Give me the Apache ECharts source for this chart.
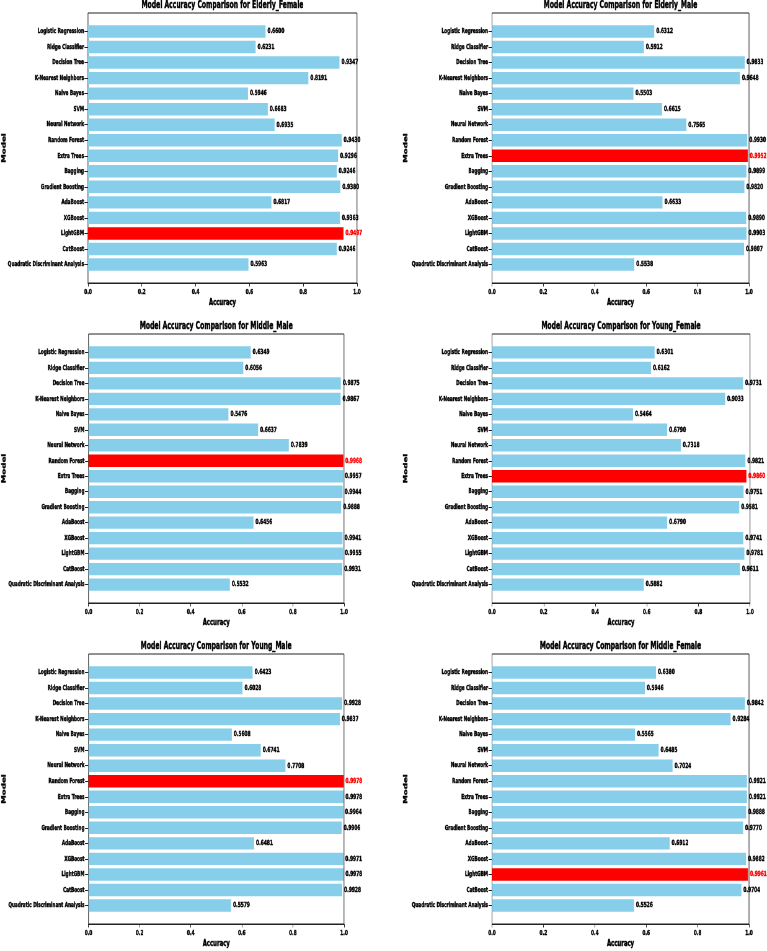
<!DOCTYPE html>
<html><head><meta charset="utf-8">
<script src="https://cdn.jsdelivr.net/npm/echarts@6/dist/echarts.min.js"></script>
<style>
html,body{margin:0;padding:0;background:#fff;overflow:hidden}
#wrap{width:767px;height:951px;overflow:hidden;position:relative}
#c{width:1237px;height:951px;transform:scaleX(0.62);transform-origin:0 0;position:absolute;left:0;top:0}
</style>
</head><body><div id="wrap"><div id="c"></div></div>
<script>
const models = ['Logistic Regression','Ridge Classifier','Decision Tree','K-Nearest Neighbors','Naive Bayes','SVM','Neural Network','Random Forest','Extra Trees','Bagging','Gradient Boosting','AdaBoost','XGBoost','LightGBM','CatBoost','Quadratic Discriminant Analysis'];
const groupNames = ['Elderly_Female','Elderly_Male','Middle_Male','Young_Female','Young_Male','Middle_Female'];
const elderlyFemale = [0.6600,0.6231,0.9347,0.8191,0.5946,0.6683,0.6935,0.9430,0.9296,0.9246,0.9380,0.6817,0.9363,0.9497,0.9246,0.5963];
const elderlyMale   = [0.6312,0.5912,0.9833,0.9648,0.5503,0.6615,0.7565,0.9930,0.9952,0.9899,0.9820,0.6633,0.9890,0.9903,0.9807,0.5538];
const middleMale    = [0.6349,0.6056,0.9875,0.9867,0.5476,0.6637,0.7839,0.9968,0.9957,0.9944,0.9888,0.6456,0.9941,0.9955,0.9931,0.5532];
const youngFemale   = [0.6301,0.6162,0.9731,0.9033,0.5464,0.6790,0.7318,0.9821,0.9860,0.9751,0.9581,0.6790,0.9741,0.9781,0.9611,0.5882];
const youngMale     = [0.6423,0.6028,0.9928,0.9837,0.5608,0.6741,0.7708,0.9978,0.9978,0.9964,0.9906,0.6481,0.9971,0.9978,0.9928,0.5579];
const middleFemale  = [0.6380,0.5946,0.9842,0.9284,0.5565,0.6485,0.7024,0.9921,0.9921,0.9888,0.9770,0.6912,0.9882,0.9961,0.9704,0.5526];
const seriesValues = [elderlyFemale, elderlyMale, middleMale, youngFemale, youngMale, middleFemale];
const xMin = 0, xMax = 1, xStep = 0.2;
const titlePrefix = 'Model Accuracy Comparison for ';
const xName = 'Accuracy', yName = 'Model';

// layout: frame boxes in screen pixels; chart is drawn wider and squeezed horizontally by K
const K = 0.62;
const frames = [
  {l:88, r:357, t:13, b:283, my:4},
  {l:492, r:749, t:13, b:283, my:406},
  {l:88.5, r:344, t:334, b:603, my:4},
  {l:492, r:750, t:334, b:603, my:406},
  {l:88.5, r:344, t:654, b:924, my:4},
  {l:492, r:749, t:654, b:924, my:406}
];
const FONT = "'DejaVu Sans',sans-serif";
const BLUE = '#87CEEB', RED = '#FF0000', INK = '#000';
const S = x => x / K;
const bold = (c) => ({textBorderColor:c, textBorderWidth:0.45});

const chart = echarts.init(document.getElementById('c'), null, {renderer:'canvas'});
const grid = [], xAxis = [], yAxis = [], series = [], title = [];
frames.forEach((f, i) => {
  const vals = seriesValues[i];
  const H = f.b - f.t;
  const u = H / 17.38;
  const inset = 0.69 * u;
  let best = 0; vals.forEach((v, k) => { if (v > vals[best]) best = k; });
  grid.push({left:S(f.l), top:f.t, width:S(f.r - f.l), height:H, show:true, borderColor:'#222', borderWidth:1,
    backgroundColor:'transparent', containLabel:false, outerBoundsMode:'none'});
  grid.push({left:S(f.l), top:f.t + inset, width:S(f.r - f.l), height:H - 2*inset, containLabel:false, outerBoundsMode:'none'});
  const gf = 2*i, gb = 2*i+1;
  xAxis.push({gridIndex:gf, type:'value', min:xMin, max:xMax, interval:xStep,
    axisLine:{show:true, lineStyle:{color:'#222', width:1}}, axisTick:{show:true, length:3.5, lineStyle:{color:'#222'}},
    axisLabel:Object.assign({fontFamily:FONT, fontWeight:'bold', fontSize:6.9, color:INK, margin:6, formatter:v => v.toFixed(1)}, bold(INK)),
    splitLine:{show:false}, name:xName, nameLocation:'middle', nameGap:15.5,
    nameTextStyle:Object.assign({fontFamily:FONT, fontWeight:'bold', fontSize:8.6, color:INK}, bold(INK))});
  xAxis.push({gridIndex:gb, type:'value', min:xMin, max:xMax, show:false});
  yAxis.push({gridIndex:gf, type:'value', min:0, max:1, axisLine:{show:false}, axisTick:{show:false}, axisLabel:{show:false}, splitLine:{show:false},
    name:yName, nameLocation:'middle', nameRotate:90, nameGap: S(f.l) - S(f.my) - 4.5,
    nameTextStyle:Object.assign({fontFamily:FONT, fontWeight:'bold', fontSize:8.6, color:INK}, bold(INK))});
  yAxis.push({gridIndex:gb, type:'category', inverse:true, data:models,
    axisLine:{show:false}, axisTick:{show:true, alignWithLabel:true, length:S(3.5), lineStyle:{color:'#222'}},
    axisLabel:Object.assign({fontFamily:FONT, fontWeight:'bold', fontSize:6.8, color:INK, margin:S(4)}, bold(INK)), splitLine:{show:false}});
  series.push({type:'bar', xAxisIndex:gb, yAxisIndex:gb, barWidth:'80%', animation:false,
    itemStyle:{color:BLUE},
    data: vals.map((v, k) => k === best ? {value:v, itemStyle:{color:RED}, label:Object.assign({color:RED}, bold(RED))} : v),
    label:Object.assign({show:true, position:'right', distance:S(2), fontFamily:FONT, fontWeight:'bold', fontSize:7, color:INK,
      formatter: p => p.value.toFixed(4)}, bold(INK))});
  title.push({text: titlePrefix + groupNames[i], left:S((f.l + f.r)/2), top: f.t - 12.5, textAlign:'center', padding:0,
    textStyle:Object.assign({fontFamily:FONT, fontWeight:'bold', fontSize:9.8, color:INK}, bold(INK))});
});
chart.setOption({animation:false, backgroundColor:'#fff', title, grid, xAxis, yAxis, series});
</script></body></html>
